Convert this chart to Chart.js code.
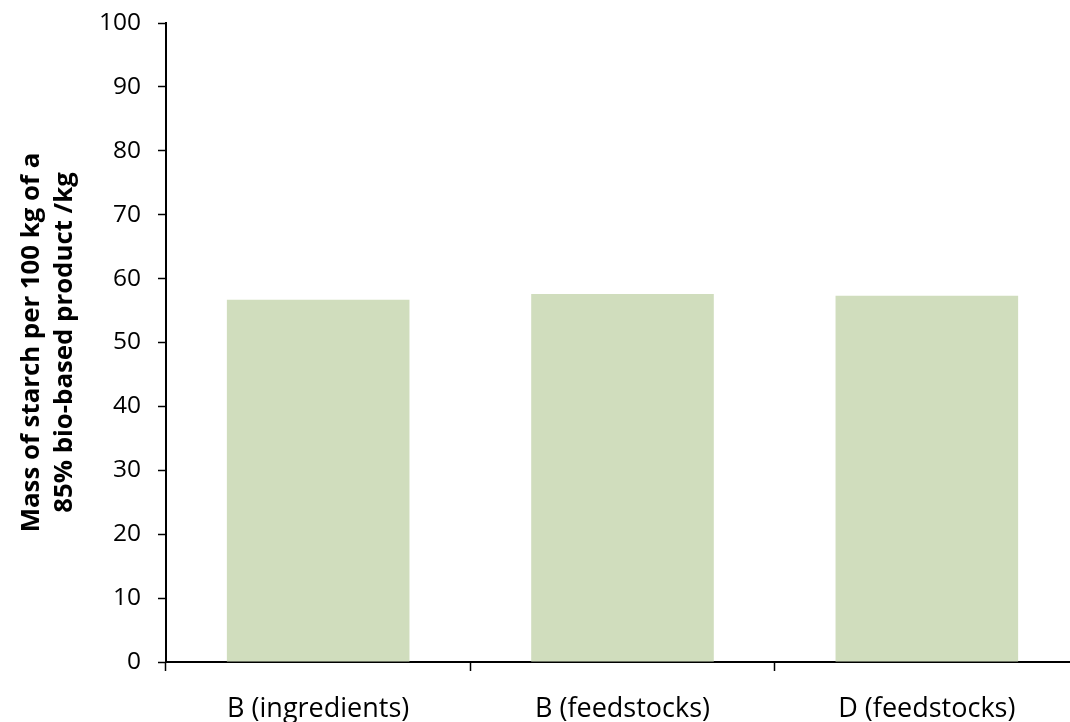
<!DOCTYPE html>
<html>
<head>
<meta charset="utf-8">
<script src="https://cdn.jsdelivr.net/npm/chart.js@4"></script>
<style>
  html, body { margin: 0; padding: 0; background: #fff; overflow: hidden; }
  #wrap { position: relative; width: 1079px; height: 722px; }
</style>
</head>
<body>
<div id="wrap"><canvas id="chart"></canvas></div>
<script>
// data
let categories = ['B (ingredients)', 'B (feedstocks)', 'D (feedstocks)'];
let starch_mass = [56.7, 57.6, 57.3];
let y_title = ['Mass of starch per 100 kg of a', '85% bio-based product /kg'];

let font_family = "'Open Sans', sans-serif";

var ctx = document.getElementById('chart');
var chart = new Chart(ctx, {
    type: 'bar',
    data: {
        labels: categories,
        datasets: [
            {
                label: 'Mass of starch',
                data: starch_mass,
                backgroundColor: '#D0DDBD',
                borderWidth: 0,
                categoryPercentage: 0.6,
                barPercentage: 1.0,
            }
        ],
    },
    options: {
        responsive: true,
        maintainAspectRatio: false,
        animation: false,
        layout: { padding: { top: 23, right: 0, bottom: 0, left: 0 } },
        scales: {
            x: {
                offset: true,
                grid: {
                    offset: true,
                    drawOnChartArea: false,
                    drawTicks: true,
                    tickLength: 9,
                    tickWidth: 1.5,
                    tickColor: '#000',
                },
                border: { display: true, color: '#000', width: 2 },
                ticks: {
                    color: '#000',
                    padding: 22,
                    font: { family: font_family, size: 27 },
                },
                afterFit: (scale) => {
                    scale.height = 60;
                    scale.paddingLeft = 0;
                    scale.paddingRight = 0;
                },
            },
            y: {
                min: 0,
                max: 100,
                ticks: {
                    stepSize: 10,
                    color: '#000',
                    padding: 17,
                    font: { family: font_family, size: 24.5 },
                },
                grid: {
                    drawOnChartArea: false,
                    drawTicks: true,
                    tickLength: 8,
                    tickWidth: 1.5,
                    tickColor: '#000',
                },
                border: { display: true, color: '#000', width: 2 },
                title: {
                    display: true,
                    text: y_title,
                    color: '#000',
                    padding: { top: 15, bottom: 0 },
                    font: { family: font_family, size: 25.8, weight: 'bold', lineHeight: 1.27 },
                },
                afterFit: (scale) => {
                    scale.width = 166;
                    scale.paddingTop = 0;
                    scale.paddingBottom = 0;
                },
            },
        },
        plugins: {
            legend: { display: false },
            tooltip: { enabled: false },
            title: { display: false },
        },
    },
});
</script>
</body>
</html>
